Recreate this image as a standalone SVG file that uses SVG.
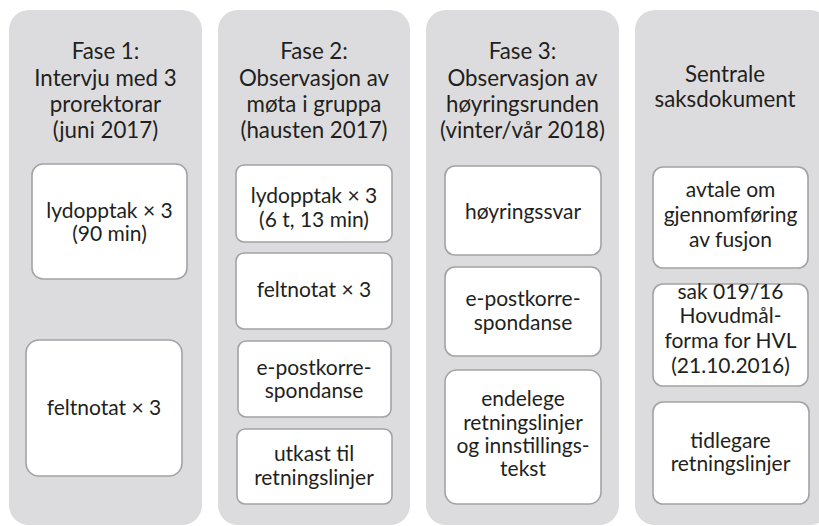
<svg xmlns="http://www.w3.org/2000/svg" width="819" height="526" viewBox="0 0 819 526">
<style>
.panel{fill:#dcdcde}
.box{fill:#ffffff;stroke:#a3a3a3;stroke-width:1.6}
text{font-family:Lato,"Open Sans","Liberation Sans",sans-serif;fill:#231f20;text-anchor:middle}
.t{font-size:22.3px}
.b{font-size:21px}
</style>
<rect width="819" height="526" fill="#ffffff"/>
<g id="phase1">
<rect class="panel" x="9" y="10" width="193" height="515" rx="20"/>
<text class="t" x="105.5" y="59">Fase 1:</text>
<text class="t" x="105.5" y="86">Intervju med 3</text>
<text class="t" x="105.5" y="112">prorektorar</text>
<text class="t" x="105.5" y="138">(juni 2017)</text>
</g>
<g id="p1-lyd">
<rect class="box" x="32" y="164" width="155" height="115" rx="11"/>
<text class="b" x="109.5" y="218">lydopptak × 3</text>
<text class="b" x="109.5" y="241">(90 min)</text>
</g>
<g id="p1-felt">
<rect class="box" x="26" y="340" width="156" height="136" rx="13"/>
<text class="b" x="104" y="415">feltnotat × 3</text>
</g>
<g id="phase2">
<rect class="panel" x="218" y="10" width="192" height="515" rx="20"/>
<text class="t" x="314" y="59">Fase 2:</text>
<text class="t" x="314" y="86">Observasjon av</text>
<text class="t" x="314" y="112">møta i gruppa</text>
<text class="t" x="314" y="138">(hausten 2017)</text>
</g>
<g id="p2-lyd">
<rect class="box" x="236" y="165" width="156" height="77" rx="8"/>
<text class="b" x="314" y="203">lydopptak × 3</text>
<text class="b" x="314" y="227">(6 t, 13 min)</text>
</g>
<g id="p2-felt">
<rect class="box" x="236" y="253" width="156" height="76" rx="8"/>
<text class="b" x="314" y="297">feltnotat × 3</text>
</g>
<g id="p2-epost">
<rect class="box" x="238" y="341" width="153" height="76" rx="8"/>
<text class="b" x="314" y="375">e-postkorre-</text>
<text class="b" x="314" y="398">spondanse</text>
</g>
<g id="p2-utkast">
<rect class="box" x="237" y="429" width="155" height="75" rx="8"/>
<text class="b" x="314" y="461">utkast til</text>
<text class="b" x="314" y="485">retningslinjer</text>
</g>
<g id="phase3">
<rect class="panel" x="426" y="10" width="193" height="515" rx="20"/>
<text class="t" x="522.5" y="59">Fase 3:</text>
<text class="t" x="522.5" y="86">Observasjon av</text>
<text class="t" x="522.5" y="112">høyringsrunden</text>
<text class="t" x="522.5" y="138">(vinter/vår 2018)</text>
</g>
<g id="p3-svar">
<rect class="box" x="445" y="166" width="156" height="89" rx="10"/>
<text class="b" x="523" y="219">høyringssvar</text>
</g>
<g id="p3-epost">
<rect class="box" x="445" y="267" width="156" height="89" rx="10"/>
<text class="b" x="523" y="306">e-postkorre-</text>
<text class="b" x="523" y="330">spondanse</text>
</g>
<g id="p3-endelege">
<rect class="box" x="445" y="370" width="156" height="134" rx="12"/>
<text class="b" x="523" y="406">endelege</text>
<text class="b" x="523" y="430">retningslinjer</text>
<text class="b" x="523" y="453">og innstillings-</text>
<text class="b" x="523" y="476">tekst</text>
</g>
<g id="documents">
<rect class="panel" x="635" y="10" width="195" height="515" rx="20"/>
<text class="t" x="725" y="82">Sentrale</text>
<text class="t" x="725" y="107">saksdokument</text>
</g>
<g id="d-avtale">
<rect class="box" x="653" y="167" width="155" height="101" rx="10"/>
<text class="b" x="730.5" y="197">avtale om</text>
<text class="b" x="730.5" y="222">gjennomføring</text>
<text class="b" x="730.5" y="247">av fusjon</text>
</g>
<g id="d-sak">
<rect class="box" x="653" y="284" width="155" height="102" rx="10"/>
<text class="b" x="730.5" y="299">sak 019/16</text>
<text class="b" x="730.5" y="323">Hovudmål-</text>
<text class="b" x="730.5" y="348">forma for HVL</text>
<text class="b" x="730.5" y="373">(21.10.2016)</text>
</g>
<g id="d-tidlegare">
<rect class="box" x="653" y="402" width="156" height="102" rx="10"/>
<text class="b" x="730.5" y="448">tidlegare</text>
<text class="b" x="730.5" y="471">retningslinjer</text>
</g>
<g id="connectors"></g>
</svg>
